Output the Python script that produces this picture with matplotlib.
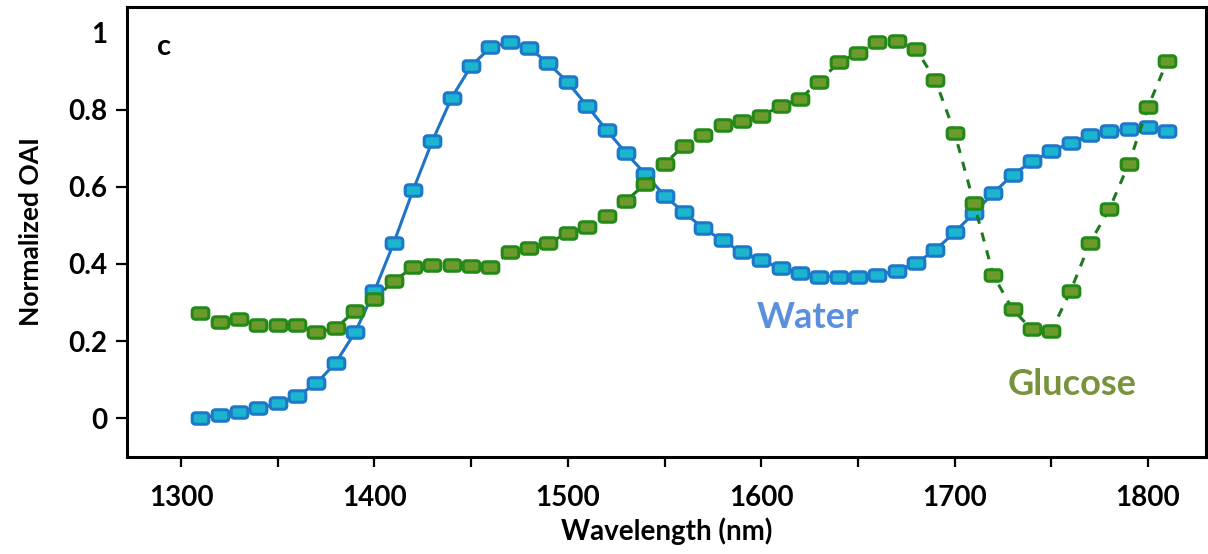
import matplotlib
matplotlib.use("Agg")
import matplotlib.pyplot as plt
from matplotlib.path import Path

# Wavelengths (nm) sampled every 10 nm
wavelength = list(range(1310, 1811, 10))

# Normalized optoacoustic intensity of water
water = [0.000, 0.008, 0.015, 0.025, 0.038, 0.057, 0.090, 0.144, 0.223, 0.330,
         0.455, 0.592, 0.720, 0.832, 0.914, 0.962, 0.977, 0.960, 0.921, 0.871,
         0.810, 0.748, 0.688, 0.634, 0.577, 0.534, 0.493, 0.461, 0.430, 0.409,
         0.389, 0.377, 0.367, 0.367, 0.367, 0.371, 0.383, 0.402, 0.436, 0.482,
         0.532, 0.584, 0.631, 0.666, 0.692, 0.715, 0.735, 0.744, 0.750, 0.755,
         0.744]

# Normalized optoacoustic intensity of glucose
glucose = [0.272, 0.250, 0.256, 0.242, 0.242, 0.242, 0.223, 0.233, 0.279, 0.309,
           0.356, 0.391, 0.397, 0.397, 0.395, 0.392, 0.430, 0.441, 0.455, 0.480,
           0.497, 0.525, 0.564, 0.607, 0.660, 0.707, 0.735, 0.761, 0.770, 0.785,
           0.809, 0.829, 0.873, 0.923, 0.947, 0.975, 0.980, 0.958, 0.878, 0.741,
           0.558, 0.371, 0.282, 0.230, 0.226, 0.330, 0.455, 0.542, 0.659, 0.807,
           0.927]

x_ticks = [1300, 1400, 1500, 1600, 1700, 1800]
y_ticks = [0, 0.2, 0.4, 0.6, 0.8, 1.0]
y_tick_labels = ["0", "0.2", "0.4", "0.6", "0.8", "1"]


def rounded_rect(w=1.45, h=1.0, r=0.3):
    """Closed path of a rectangle with rounded corners, centred at the origin."""
    a, b = w / 2, h / 2
    verts = [
        (-a + r, -b), (a - r, -b), (a, -b), (a, -b + r),
        (a, b - r), (a, b), (a - r, b),
        (-a + r, b), (-a, b), (-a, b - r),
        (-a, -b + r), (-a, -b), (-a + r, -b),
        (-a + r, -b),
    ]
    codes = [Path.MOVETO, Path.LINETO, Path.CURVE3, Path.CURVE3,
             Path.LINETO, Path.CURVE3, Path.CURVE3,
             Path.LINETO, Path.CURVE3, Path.CURVE3,
             Path.LINETO, Path.CURVE3, Path.CURVE3,
             Path.CLOSEPOLY]
    return Path(verts, codes)


marker = rounded_rect()
font = ["Lato", "DejaVu Sans"]
plt.rcParams["font.family"] = font

fig = plt.figure(figsize=(12.08, 5.54), dpi=100)
ax = fig.add_axes([0.1051, 0.1751, 0.8932, 0.8123])

ax.plot(wavelength, water, color="#1f74c4", lw=2.2, marker=marker,
        markersize=12, markerfacecolor="#1bb5cf", markeredgecolor="#1c78c8",
        markeredgewidth=2.2, zorder=3)
ax.plot(wavelength, glucose, color="#1e7a1e", lw=2.2, linestyle=(0, (3, 3)),
        marker=marker, markersize=12, markerfacecolor="#6c9a2c",
        markeredgecolor="#238a17", markeredgewidth=2.2, zorder=4)

ax.set_xlim(1272, 1830)
ax.set_ylim(-0.101, 1.067)

ax.set_xticks(x_ticks)
ax.set_xticks(list(range(1300, 1801, 50)), minor=True)
ax.set_yticks(y_ticks)
ax.set_yticklabels(y_tick_labels)
ax.yaxis.get_major_ticks()[-1].tick1line.set_visible(False)

ax.tick_params(axis="both", which="both", direction="out", width=1.6,
               colors="black")
ax.tick_params(axis="x", which="both", length=7, pad=13)
ax.tick_params(axis="y", which="major", length=8, pad=6)
for lbl in ax.get_xticklabels() + ax.get_yticklabels():
    lbl.set_fontsize(20)
    lbl.set_fontweight("bold")

for sp in ax.spines.values():
    sp.set_linewidth(2.2)
    sp.set_color("black")

ax.set_xlabel("Wavelength (nm)", fontsize=20, fontweight="bold", labelpad=5)
ax.set_ylabel("Normalized OAI", fontsize=19, fontweight="bold", labelpad=18)

ax.text(0.034, 0.91, "c", transform=ax.transAxes, fontsize=21,
        fontweight="bold", color="black", ha="center", va="center")
ax.text(1624, 0.26, "Water", fontsize=26, fontweight="bold",
        color="#5a8fdd", ha="center", va="center")
ax.text(1761, 0.087, "Glucose", fontsize=26, fontweight="bold",
        color="#77933c", ha="center", va="center")

fig.savefig("out.png", dpi=100)
